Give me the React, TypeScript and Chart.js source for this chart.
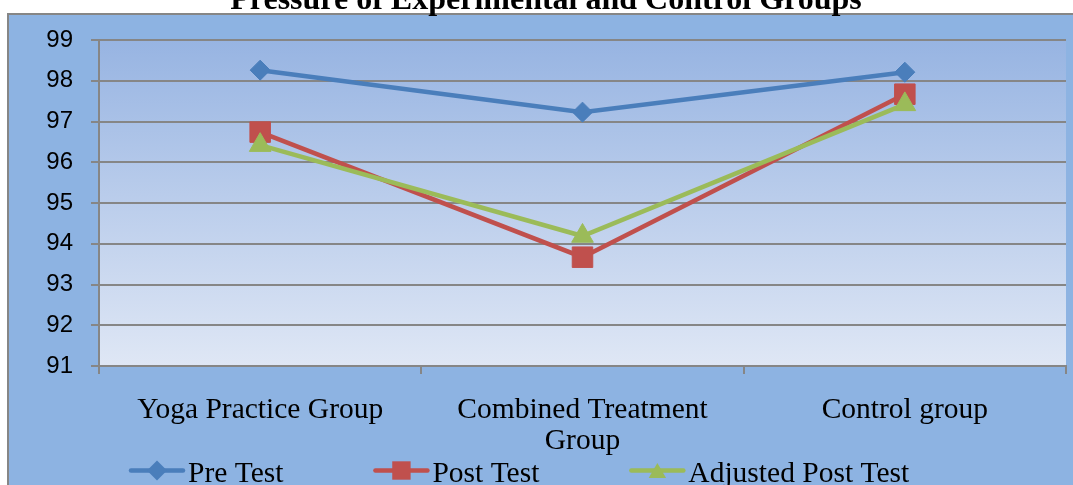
import React, { useEffect, useRef } from "react";
import { Chart, registerables } from "chart.js";

Chart.register(...registerables);

const titleText = "Pressure of Experimental and Control Groups";
const categories = ["Yoga Practice Group", "Combined Treatment Group", "Control group"];
const seriesNames = ["Pre Test", "Post Test", "Adjusted Post Test"];
const preTest = [98.26, 97.23, 98.21];
const postTest = [96.74, 93.67, 97.67];
const adjustedPostTest = [96.42, 94.19, 97.42];
const yMin = 91;
const yMax = 99;
const yStep = 1;

const colors = ["#4A7EBB", "#C0504D", "#9BBB59"];
const pointStyles = ["rectRot", "rect", "triangle"];
const pointRadii = [10, 14.5, 12.5];
const GRID = "#868686";

function drawMarker(ctx: CanvasRenderingContext2D, style: string, x: number, y: number, r: number) {
  ctx.beginPath();
  if (style === "rectRot") {
    ctx.moveTo(x - r, y);
    ctx.lineTo(x, y - r);
    ctx.lineTo(x + r, y);
    ctx.lineTo(x, y + r);
  } else if (style === "rect") {
    const s = Math.SQRT1_2 * r;
    ctx.rect(x - s, y - s, 2 * s, 2 * s);
  } else {
    const h = r * 0.75;
    const w = r * 0.87;
    ctx.moveTo(x, y - h);
    ctx.lineTo(x + w, y + h);
    ctx.lineTo(x - w, y + h);
  }
  ctx.closePath();
  ctx.fill();
}

const backgroundPlugin = {
  id: "bgPlugin",
  beforeDraw(chart: any) {
    const ctx = chart.ctx as CanvasRenderingContext2D;
    const { width, height, chartArea } = chart;
    ctx.save();
    ctx.fillStyle = "#ffffff";
    ctx.fillRect(0, 0, width, height);
    ctx.fillStyle = "#8DB3E2";
    ctx.fillRect(8, 14, width, height);
    ctx.strokeStyle = GRID;
    ctx.lineWidth = 2;
    ctx.beginPath();
    ctx.moveTo(8, height + 2);
    ctx.lineTo(8, 14);
    ctx.lineTo(width + 2, 14);
    ctx.stroke();
    const g = ctx.createLinearGradient(0, chartArea.top, 0, chartArea.bottom);
    g.addColorStop(0, "#97B4E2");
    g.addColorStop(1, "#DFE7F5");
    ctx.fillStyle = g;
    ctx.fillRect(chartArea.left, chartArea.top, chartArea.right - chartArea.left, chartArea.bottom - chartArea.top);
    ctx.fillStyle = "#000000";
    ctx.font = "bold 32px 'Liberation Serif'";
    ctx.textAlign = "center";
    ctx.textBaseline = "alphabetic";
    ctx.fillText(titleText, 546, 9);
    ctx.restore();
  },
};

const legendPlugin = {
  id: "customLegend",
  afterDraw(chart: any) {
    const ctx = chart.ctx as CanvasRenderingContext2D;
    ctx.save();
    ctx.font = "29.5px 'Liberation Serif'";
    ctx.textBaseline = "alphabetic";
    ctx.textAlign = "left";
    let x = 129;
    const ly = 470.5;
    chart.data.datasets.forEach((ds: any, i: number) => {
      ctx.strokeStyle = colors[i];
      ctx.lineWidth = 4.5;
      ctx.lineCap = "round";
      ctx.beginPath();
      ctx.moveTo(x + 2, ly);
      ctx.lineTo(x + 54, ly);
      ctx.stroke();
      ctx.fillStyle = colors[i];
      drawMarker(ctx, pointStyles[i], x + 28, ly, i === 1 ? 13 : 10);
      ctx.fillStyle = "#000000";
      const tx = x + 59;
      ctx.fillText(ds.label, tx, 482);
      x = tx + ctx.measureText(ds.label).width + 90;
    });
    ctx.restore();
  },
};

function wrapLabel(label: string): string | string[] {
  if (label.length > 20) {
    const k = label.lastIndexOf(" ");
    return [label.slice(0, k), label.slice(k + 1)];
  }
  return label;
}

export default function App() {
  const canvasRef = useRef<HTMLCanvasElement | null>(null);

  useEffect(() => {
    if (!canvasRef.current) return;
    const series = [preTest, postTest, adjustedPostTest];
    const chart = new Chart(canvasRef.current, {
      type: "line",
      data: {
        labels: categories,
        datasets: series.map((d, i) => ({
          label: seriesNames[i],
          data: d,
          borderColor: colors[i],
          backgroundColor: colors[i],
          borderWidth: 4.5,
          tension: 0,
          pointStyle: pointStyles[i] as any,
          pointRadius: pointRadii[i],
          pointHoverRadius: pointRadii[i],
          pointBorderWidth: 1,
          pointBorderColor: colors[i],
          pointBackgroundColor: colors[i],
          order: 3 - i,
          clip: false as any,
        })),
      },
      options: {
        responsive: false,
        animation: false,
        devicePixelRatio: 1,
        layout: { autoPadding: false, padding: { left: 0, top: 40, right: 7, bottom: 0 } },
        plugins: {
          legend: { display: false },
          title: { display: false },
          tooltip: { enabled: false },
        },
        scales: {
          x: {
            type: "category",
            offset: true,
            grid: {
              display: true,
              drawOnChartArea: false,
              drawTicks: true,
              tickLength: 8,
              color: GRID,
              lineWidth: 2,
              offset: true,
            },
            border: { display: true, color: GRID, width: 2 },
            ticks: {
              color: "#000000",
              font: { family: "'Liberation Serif'", size: 29.5, lineHeight: 1.05 },
              padding: 21,
              maxRotation: 0,
              autoSkip: false,
              callback: (_v: any, idx: number) => wrapLabel(categories[idx]),
            },
            afterFit: (scale: any) => {
              scale.height = 119;
              scale.paddingLeft = 0;
              scale.paddingRight = 0;
            },
          },
          y: {
            min: yMin,
            max: yMax,
            grid: { color: GRID, lineWidth: 2, tickLength: 8, drawTicks: true },
            border: { display: true, color: GRID, width: 2 },
            ticks: {
              stepSize: yStep,
              color: "#000000",
              font: { family: "'Liberation Sans'", size: 24 },
              padding: 18,
            },
            afterFit: (scale: any) => {
              scale.width = 99;
              scale.paddingTop = 0;
              scale.paddingBottom = 0;
            },
          },
        },
      },
      plugins: [backgroundPlugin, legendPlugin],
    });
    return () => chart.destroy();
  }, []);

  return (
    <div style={{ position: "absolute", left: 0, top: 0, width: 1073, height: 485 }}>
      <canvas ref={canvasRef} width={1073} height={485} style={{ display: "block" }} />
    </div>
  );
}
